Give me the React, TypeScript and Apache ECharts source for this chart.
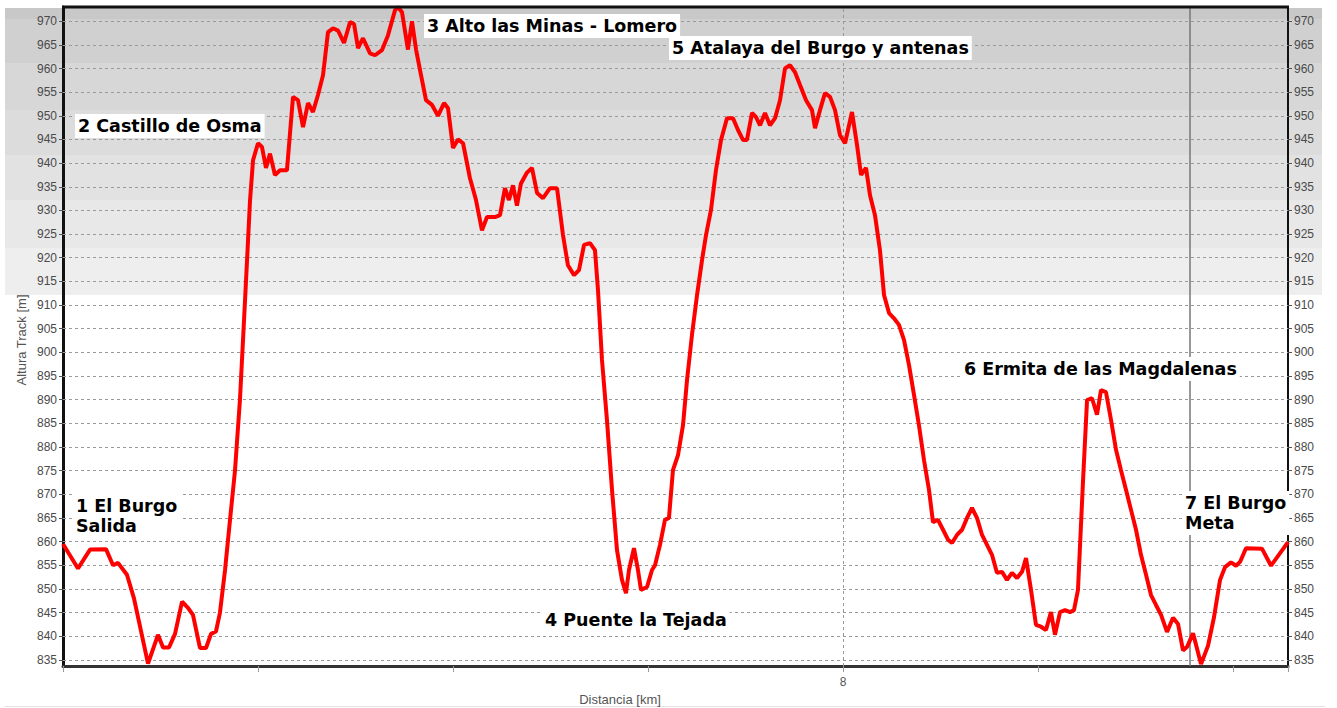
import React, { useEffect, useRef } from 'react';
import * as echarts from 'echarts';

const distanceKm = [
  0, 0.154, 0.277, 0.441, 0.513, 0.564, 0.656, 0.728, 0.872, 0.974, 1.026, 1.087, 1.149, 1.221, 1.282, 1.333,
  1.405, 1.467, 1.518, 1.569, 1.61, 1.662, 1.713, 1.764, 1.815, 1.867, 1.918, 1.949, 2.0, 2.041, 2.082, 2.123,
  2.174, 2.226, 2.297, 2.359, 2.41, 2.462, 2.513, 2.564, 2.615, 2.667, 2.718, 2.769, 2.821, 2.882, 2.944, 2.985,
  3.026, 3.077, 3.149, 3.2, 3.272, 3.333, 3.405, 3.436, 3.477, 3.538, 3.579, 3.621, 3.672, 3.723, 3.785, 3.846,
  3.908, 3.949, 4.0, 4.051, 4.103, 4.174, 4.236, 4.297, 4.349, 4.431, 4.482, 4.533, 4.574, 4.615, 4.656, 4.697,
  4.759, 4.81, 4.862, 4.923, 4.995, 5.067, 5.128, 5.179, 5.241, 5.292, 5.344, 5.405, 5.456, 5.487, 5.528, 5.579,
  5.631, 5.682, 5.733, 5.774, 5.805, 5.856, 5.897, 5.928, 5.99, 6.041, 6.072, 6.123, 6.174, 6.215, 6.256, 6.308,
  6.359, 6.4, 6.451, 6.503, 6.554, 6.595, 6.646, 6.697, 6.749, 6.81, 6.872, 6.923, 6.974, 7.015, 7.067, 7.108,
  7.149, 7.2, 7.251, 7.303, 7.354, 7.405, 7.456, 7.508, 7.559, 7.621, 7.682, 7.713, 7.764, 7.815, 7.867, 7.918,
  7.969, 8.021, 8.051, 8.092, 8.144, 8.185, 8.236, 8.277, 8.328, 8.379, 8.421, 8.472, 8.523, 8.574, 8.626, 8.677,
  8.728, 8.779, 8.831, 8.882, 8.923, 8.974, 9.026, 9.077, 9.118, 9.169, 9.221, 9.272, 9.323, 9.374, 9.426, 9.477,
  9.528, 9.579, 9.631, 9.682, 9.733, 9.785, 9.836, 9.877, 9.928, 9.979, 10.031, 10.082, 10.133, 10.174, 10.226, 10.277,
  10.328, 10.369, 10.41, 10.462, 10.503, 10.554, 10.605, 10.646, 10.697, 10.749, 10.8, 10.851, 10.903, 10.954, 11.005, 11.056,
  11.108, 11.159, 11.21, 11.262, 11.323, 11.385, 11.436, 11.487, 11.528, 11.59, 11.672, 11.744, 11.805, 11.867, 11.918, 11.979,
  12.031, 12.072, 12.133, 12.297, 12.39, 12.564,
];

const elevationM = [
  859.5, 854.3, 858.3, 858.4, 855, 855.5, 853, 848, 834.2, 840.3, 837.6, 837.6, 840.5, 847.3, 846, 844.5,
  837.5, 837.5, 840.5, 841, 845, 854, 864.6, 875, 890, 911, 932, 940.6, 944.2, 943.4, 939, 942,
  937.5, 938.5, 938.5, 954, 953.3, 947.6, 952.7, 950.8, 954.4, 958.6, 967.7, 968.5, 968, 965.4, 969.8, 969.4,
  964.3, 966.4, 963.2, 962.8, 963.9, 967, 972.3, 973, 971.9, 964, 970, 964, 958.6, 953.3, 952.3, 950,
  952.7, 951.6, 943.2, 945, 944.2, 936.8, 932.2, 925.8, 928.6, 928.6, 929, 934.7, 932.2, 935.3, 931, 935.7,
  938, 939, 933.7, 932.6, 934.7, 934.7, 924.8, 918.4, 916.3, 917.4, 922.7, 923.1, 921.6, 913.2, 898.4, 885.7,
  870.9, 858.2, 851.9, 849.1, 854, 858.6, 854, 849.8, 850.4, 854, 855, 859.3, 864.6, 865, 875.1, 878.3,
  884.6, 894.1, 903.7, 912.1, 919.5, 924.8, 930.1, 938.5, 944.9, 949.5, 949.5, 947, 944.9, 944.9, 950.6, 949.7,
  948, 950.6, 948, 949.5, 953.3, 960, 960.7, 959.2, 956.5, 953.3, 951.2, 947.4, 951.2, 954.8, 954, 951.2,
  945.9, 944.2, 947, 950.8, 943.8, 937.5, 939, 933.2, 929, 921.6, 912.1, 908.3, 907.2, 905.8, 902.6, 897.3,
  891, 884.6, 877.2, 870.9, 864.1, 864.6, 862.5, 860.4, 859.7, 861.4, 862.5, 865, 867.1, 865, 861.4, 859.3,
  857.2, 853.4, 853.6, 851.9, 853.4, 852.3, 853.6, 856.5, 849.8, 842.4, 842, 841.3, 845.1, 840.3, 845.1, 845.5,
  845.1, 845.5, 849.8, 873, 889.9, 890.3, 886.8, 892, 891.6, 885.7, 879.4, 875.1, 870.9, 866.7, 862.5, 857.2,
  853, 848.7, 846.6, 844.5, 840.9, 843.9, 842.6, 837, 837.7, 840.6, 834.1, 838, 844, 851.9, 854.6, 855.6,
  854.9, 855.7, 858.6, 858.5, 854.9, 859.9,
];

const yTicks = [835, 840, 845, 850, 855, 860, 865, 870, 875, 880, 885, 890, 895, 900, 905, 910, 915, 920, 925, 930, 935, 940, 945, 950, 955, 960, 965, 970];
const xLabelledTicks = [8];
const finishKm = 11.56;

const waypointLabels = [
  '1 El Burgo\nSalida',
  '2 Castillo de Osma',
  '3 Alto las Minas - Lomero',
  '4 Puente la Tejada',
  '5 Atalaya del Burgo y antenas',
  '6 Ermita de las Magdalenas',
  '7 El Burgo\nMeta',
];
const labelPos = [
  [73, 516],
  [75, 126],
  [424, 26],
  [542, 620],
  [669, 48],
  [961, 369],
  [1182, 513],
];

const bands = [
  [8, 19, '#c8c8c8'],
  [19, 63, '#d0d0d0'],
  [63, 110, '#d7d7d7'],
  [110, 155, '#dcdcdc'],
  [155, 200, '#e2e2e2'],
  [200, 248, '#e8e8e8'],
  [248, 295, '#eeeeee'],
];

export default function App() {
  const ref = useRef<HTMLDivElement>(null);
  useEffect(() => {
    const chart = echarts.init(ref.current!, null, { renderer: 'svg' });
    const pairs = distanceKm.map((d, i) => [d, elevationM[i]]);
    const yAxisBase = {
      type: 'value',
      min: 833.7,
      max: 973,
      splitLine: { show: false },
      axisTick: { show: true, customValues: yTicks, length: 4, lineStyle: { color: '#555' } },
      axisLabel: { customValues: yTicks, color: '#4a4a4a', fontSize: 12, fontFamily: 'Arial, Liberation Sans', margin: 6 },
    };
    const graphic: any[] = [];
    bands.forEach(([y0, y1, c]) => {
      graphic.push({
        type: 'rect', z: -5, silent: true,
        shape: { x: 5, y: y0 as number, width: 1317, height: (y1 as number) - (y0 as number) },
        style: { fill: c as string },
      });
    });
    graphic.push({
      type: 'line', z: -5, silent: true,
      shape: { x1: 5, y1: 706.5, x2: 1325, y2: 706.5 },
      style: { stroke: '#e2e2e2', lineWidth: 1 },
    });
    graphic.push({
      type: 'line', z: 60, silent: true,
      shape: { x1: 62, y1: 7, x2: 1289, y2: 7 },
      style: { stroke: '#111', lineWidth: 3 },
    });
    graphic.push({
      type: 'text', z: 50, x: 620, y: 699,
      style: { text: 'Distancia [km]', fill: '#555', font: '13px Arial, Liberation Sans', textAlign: 'center', verticalAlign: 'middle' },
    });
    graphic.push({
      type: 'text', z: 50, x: 21, y: 340, rotation: Math.PI / 2,
      style: { text: 'Altura Track [m]', fill: '#555', font: '13px Arial, Liberation Sans', textAlign: 'center', verticalAlign: 'middle' },
    });
    waypointLabels.forEach((t, i) => {
      graphic.push({
        type: 'text', z: 100, x: labelPos[i][0], y: labelPos[i][1],
        style: {
          text: t, fill: '#000', font: 'bold 17.5px "DejaVu Sans"', lineHeight: 20,
          backgroundColor: '#fff', padding: [2, 3, 2, 3], textAlign: 'left', verticalAlign: 'middle',
        },
      });
    });

    chart.setOption({
      animation: false,
      backgroundColor: '#fff',
      grid: { left: 63, right: 49, top: 7, bottom: 42, show: true, borderColor: '#1a1a1a', borderWidth: 2, backgroundColor: 'transparent' },
      xAxis: {
        type: 'value', min: 0, max: 12.564, interval: 2,
        axisLine: { show: true, onZero: false, lineStyle: { color: '#333', width: 3 } },
        axisTick: { show: true, length: 6, lineStyle: { color: '#999' } },
        axisLabel: { formatter: (v: number) => (xLabelledTicks.includes(v) ? String(v) : ''), color: '#555', fontSize: 12, fontFamily: 'Arial, Liberation Sans', margin: 10 },
        splitLine: { show: false },
      },
      yAxis: [
        { ...yAxisBase, position: 'left', axisLine: { show: true, lineStyle: { color: '#111', width: 3 } } },
        { ...yAxisBase, position: 'right', axisLine: { show: true, lineStyle: { color: '#111', width: 2 } } },
      ],
      graphic,
      series: [
        {
          type: 'line', data: pairs, symbol: 'none', silent: true, z: 1,
          lineStyle: { opacity: 0 },
          markLine: {
            silent: true, symbol: ['none', 'none'], label: { show: false },
            lineStyle: { type: [3, 3], color: '#9a9a9a', width: 1 },
            data: [...yTicks.map((v) => ({ yAxis: v })), ...xLabelledTicks.map((v) => ({ xAxis: v }))],
          },
        },
        {
          type: 'line', data: pairs, symbol: 'none', silent: true, z: 2,
          lineStyle: { opacity: 0 },
          markLine: {
            silent: true, symbol: ['none', 'none'], label: { show: false },
            lineStyle: { type: 'solid', color: '#777', width: 1.5 },
            data: [{ xAxis: finishKm }],
          },
        },
        {
          type: 'line', data: pairs, symbol: 'none', z: 5,
          lineStyle: { color: '#ff0000', width: 4 },
        },
      ],
    });
    return () => chart.dispose();
  }, []);
  return <div ref={ref} style={{ position: 'fixed', left: 0, top: 0, width: 1337, height: 708, background: '#fff' }} />;
}
